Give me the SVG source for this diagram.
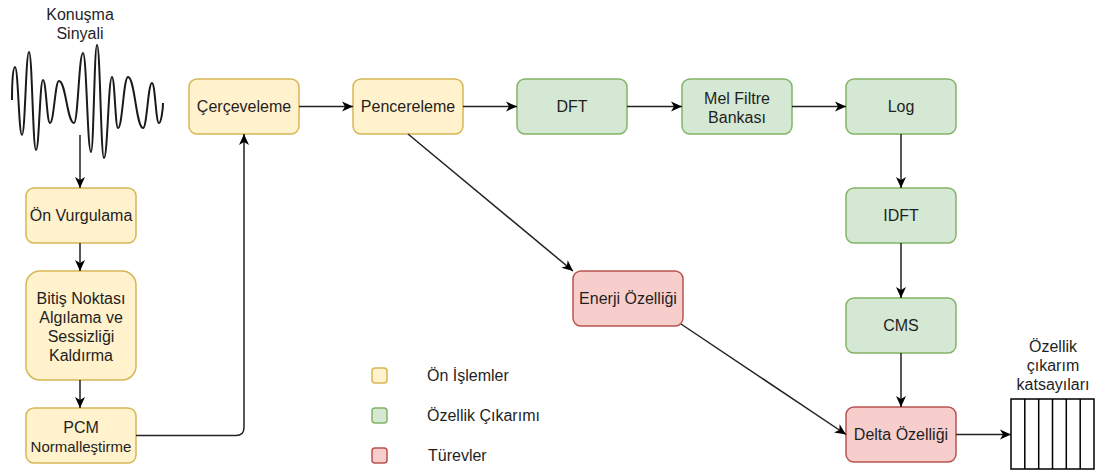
<svg xmlns="http://www.w3.org/2000/svg" width="1097" height="472" viewBox="0 0 1097 472">
  <style>
    text { font-family: "Liberation Sans", Arial, sans-serif; font-size: 16px; fill: #1f1f1f; text-anchor: middle; }
    .pre { fill: #fff2cc; stroke: #d6b656; stroke-width: 1.5; }
    .feat { fill: #d5e8d4; stroke: #82b366; stroke-width: 1.5; }
    .der { fill: #f8cecc; stroke: #b85450; stroke-width: 1.5; }
    .edge { fill: none; stroke: #222; stroke-width: 1.5; marker-end: url(#arrow); }
    .legend text { text-anchor: start; }
  </style>
  <defs>
    <marker id="arrow" markerUnits="userSpaceOnUse" markerWidth="13" markerHeight="12" refX="12" refY="6" orient="auto">
      <path d="M1,1 L12,6 L1,11 L4,6 Z" fill="#000"/>
    </marker>
  </defs>

  <rect width="1097" height="472" fill="#ffffff"/>

  <!-- input speech waveform -->
  <g id="signal">
    <text x="80" y="20">Konuşma</text>
    <text x="80" y="39">Sinyali</text>
    <path d="M12,100 C12,80 13,67 15,67 C18.2,67 18.8,135 22,135 C25.2,135 25.8,52 29,52 C32.2,52 32.8,150 36,150 C39.2,150 39.8,80 43,80 C46.2,80 46.8,123 50,123 C54,123 55,81 59,81 C65.8,81 67.2,123 74,123 C78,123 79,53 83,53 C86.6,53 87.4,152 91,152 C93.7,152 94.3,45 97,45 C100.2,45 100.8,158 104,158 C107.6,158 108.4,77 112,77 C114.7,77 115.3,128 118,128 C122.5,128 123.5,77 128,77 C134.8,77 136.2,128 143,128 C147,128 148,83 152,83 C155.2,83 155.8,123 159,123 C161,123 163,110 163,103" fill="none" stroke="#1a1a1a" stroke-width="2"/>
  </g>

  <!-- preprocessing -->
  <g id="on-vurgulama">
    <rect class="pre" x="26" y="188" width="110" height="55" rx="8"/>
    <text x="81" y="221">Ön Vurgulama</text>
  </g>
  <g id="bitis-noktasi">
    <rect class="pre" x="26" y="271" width="110" height="109" rx="14"/>
    <text x="81" y="304">Bitiş Noktası</text>
    <text x="81" y="323">Algılama ve</text>
    <text x="81" y="342">Sessizliği</text>
    <text x="81" y="361">Kaldırma</text>
  </g>
  <g id="pcm">
    <rect class="pre" x="26" y="408" width="110" height="55" rx="8"/>
    <text x="81" y="433">PCM</text>
    <text x="81" y="452" style="font-size:15px">Normalleştirme</text>
  </g>
  <g id="cerceveleme">
    <rect class="pre" x="189" y="79" width="110" height="55" rx="8"/>
    <text x="244" y="112">Çerçeveleme</text>
  </g>
  <g id="pencereleme">
    <rect class="pre" x="353" y="79" width="110" height="55" rx="8"/>
    <text x="408" y="112">Pencereleme</text>
  </g>

  <!-- feature extraction -->
  <g id="dft">
    <rect class="feat" x="517" y="79" width="110" height="55" rx="8"/>
    <text x="572" y="112">DFT</text>
  </g>
  <g id="mel">
    <rect class="feat" x="682" y="79" width="110" height="55" rx="8"/>
    <text x="737" y="104">Mel Filtre</text>
    <text x="737" y="123">Bankası</text>
  </g>
  <g id="log">
    <rect class="feat" x="846" y="79" width="110" height="55" rx="8"/>
    <text x="901" y="112">Log</text>
  </g>
  <g id="idft">
    <rect class="feat" x="846" y="188" width="110" height="55" rx="8"/>
    <text x="901" y="221">IDFT</text>
  </g>
  <g id="cms">
    <rect class="feat" x="846" y="298" width="110" height="55" rx="8"/>
    <text x="901" y="331">CMS</text>
  </g>

  <!-- derivatives -->
  <g id="enerji">
    <rect class="der" x="573" y="271" width="110" height="55" rx="8"/>
    <text x="628" y="304">Enerji Özelliği</text>
  </g>
  <g id="delta">
    <rect class="der" x="846" y="407" width="110" height="55" rx="8"/>
    <text x="901" y="440">Delta Özelliği</text>
  </g>

  <!-- output coefficient vector -->
  <g id="katsayilar">
    <text x="1053" y="352">Özellik</text>
    <text x="1053" y="371">çıkarım</text>
    <text x="1053" y="390">katsayıları</text>
    <rect x="1011" y="399" width="83" height="70" fill="#fff" stroke="#000" stroke-width="1.5"/>
    <path d="M1024.8,399 V469 M1038.7,399 V469 M1052.5,399 V469 M1066.3,399 V469 M1080.2,399 V469" stroke="#000" stroke-width="1.5"/>
  </g>

  <!-- connectors -->
  <g id="connectors">
    <path class="edge" d="M80,135 V188"/>
    <path class="edge" d="M80,243 V271"/>
    <path class="edge" d="M80,380 V408"/>
    <path class="edge" d="M136,435.5 H236 Q244,435.5 244,427.5 V134"/>
    <path class="edge" d="M299,106.5 H353"/>
    <path class="edge" d="M463,106.5 H517"/>
    <path class="edge" d="M627,106.5 H682"/>
    <path class="edge" d="M792,106.5 H846"/>
    <path class="edge" d="M901,134 V188"/>
    <path class="edge" d="M901,243 V298"/>
    <path class="edge" d="M901,353 V407"/>
    <path class="edge" d="M408,134 L573,271"/>
    <path class="edge" d="M681,324 L846,434.5"/>
    <path class="edge" d="M956,434.5 H1011"/>
  </g>

  <!-- legend -->
  <g id="legend" class="legend">
    <rect class="pre" x="372" y="368" width="15" height="15" rx="3"/>
    <text x="427" y="381">Ön İşlemler</text>
    <rect class="feat" x="372" y="408" width="15" height="15" rx="3"/>
    <text x="427" y="421">Özellik Çıkarımı</text>
    <rect class="der" x="372" y="448" width="15" height="15" rx="3"/>
    <text x="428" y="461">Türevler</text>
  </g>
</svg>
